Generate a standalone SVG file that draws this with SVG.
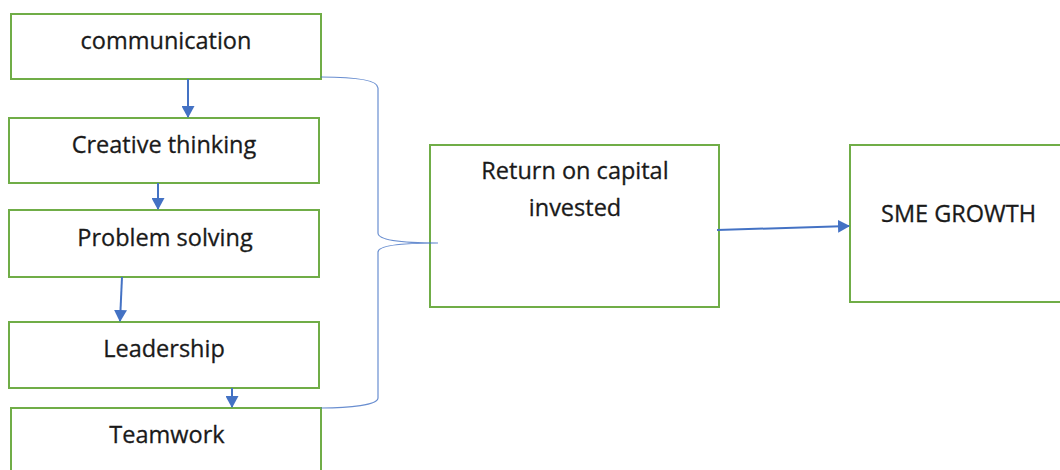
<svg xmlns="http://www.w3.org/2000/svg" width="1060" height="470" viewBox="0 0 1060 470">
<style>
.box{fill:#fff;stroke:#70AD47;stroke-width:2}
.t{font-family:"Open Sans","Liberation Sans",sans-serif;font-size:23.5px;fill:#1a1a1a;text-anchor:middle;stroke:#1a1a1a;stroke-width:0.3}
.a{stroke:#4472C4;stroke-width:2;fill:none}
.br{stroke:#4472C4;stroke-width:1.2;fill:none;opacity:0.8}
</style>
<defs>
<marker id="ah" markerWidth="13" markerHeight="13" refX="11" refY="6.5" orient="auto" markerUnits="userSpaceOnUse">
<path d="M0,0 L12,6.5 L0,13 z" fill="#4472C4"/>
</marker>
</defs>
<rect width="1060" height="470" fill="#fff"/>
<g id="n1"><rect class="box" x="11" y="14" width="310" height="65"/><text class="t" x="166" y="49">communication</text></g>
<g id="n2"><rect class="box" x="9" y="118" width="310" height="65"/><text class="t" x="164" y="153">Creative thinking</text></g>
<g id="n3"><rect class="box" x="9" y="210" width="310" height="67"/><text class="t" x="165" y="246">Problem solving</text></g>
<g id="n4"><rect class="box" x="9" y="322" width="310" height="66"/><text class="t" x="164" y="357">Leadership</text></g>
<g id="n5"><rect class="box" x="11" y="408" width="310" height="70"/><text class="t" x="167" y="443">Teamwork</text></g>
<g id="n6"><rect class="box" x="430" y="145" width="289" height="162"/><text class="t" x="575" y="179">Return on capital</text><text class="t" x="575" y="216">invested</text></g>
<g id="n7"><rect class="box" x="850" y="145" width="215" height="157"/><text class="t" x="881" y="222" style="text-anchor:start">SME GROWTH</text></g>
<g id="connectors">
<line class="a" x1="188" y1="79" x2="188" y2="117" marker-end="url(#ah)"/>
<line class="a" x1="158" y1="183" x2="158" y2="209" marker-end="url(#ah)"/>
<line class="a" x1="122" y1="277" x2="120" y2="321" marker-end="url(#ah)"/>
<line class="a" x1="232" y1="388" x2="232" y2="407" marker-end="url(#ah)"/>
<line class="a" x1="717" y1="230" x2="849" y2="226" marker-end="url(#ah)"/>
<path class="br" d="M321,77 C350,77 378,79 378,88 L378,233 C378,240 400,243 438,243 M438,243 C400,243 378,246 378,252 L378,398 C378,405 350,408 321,408"/>
</g>
</svg>
